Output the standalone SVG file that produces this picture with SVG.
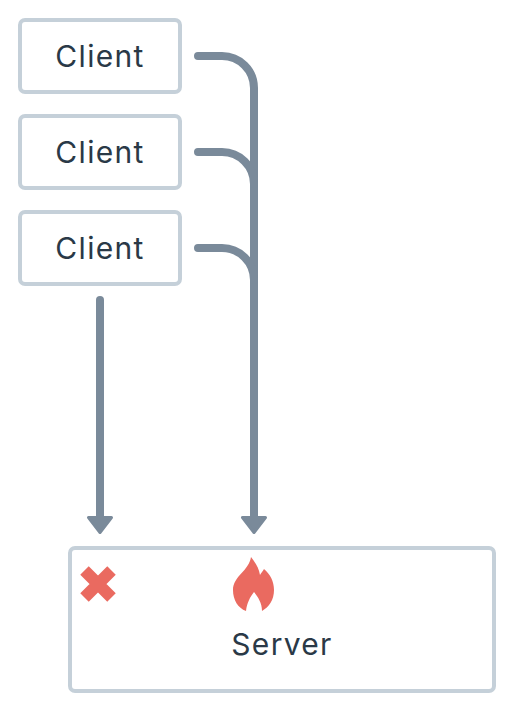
<svg xmlns="http://www.w3.org/2000/svg" width="514" height="712" viewBox="0 0 514 712">
<style>
.box{fill:#fff;stroke:#c5d0d9;stroke-width:4}
.t{font-family:"Inter","Noto Sans",sans-serif;font-size:30px;fill:#2a3947;text-anchor:middle;letter-spacing:1.3px}
.c{fill:none;stroke:#7a8a9a;stroke-width:8;stroke-linecap:round}
.h{fill:#7a8a9a;stroke:#7a8a9a;stroke-width:3;stroke-linejoin:round}
.r{fill:#ea6a60}
.x{fill:none;stroke:#ea6a60;stroke-width:12}
</style>
<rect width="514" height="712" fill="#fff"/>
<g id="connectors">
<path class="c" d="M198 56H222A32 32 0 0 1 254 88V518"/>
<path class="c" d="M198 152H222A32 32 0 0 1 254 184"/>
<path class="c" d="M198 248H222A32 32 0 0 1 254 280"/>
<path class="c" d="M100 300V518"/>
<path class="h" d="M88.500 517.500H111.500L100 532.500Z"/>
<path class="h" d="M242.500 517.500H265.500L254 532.500Z"/>
</g>
<g id="client-1"><rect class="box" x="20" y="20" width="160" height="72" rx="5"/><text class="t" x="100" y="67">Client</text></g>
<g id="client-2"><rect class="box" x="20" y="116" width="160" height="72" rx="5"/><text class="t" x="100" y="163">Client</text></g>
<g id="client-3"><rect class="box" x="20" y="212" width="160" height="72" rx="5"/><text class="t" x="100" y="259">Client</text></g>
<g id="server"><rect class="box" x="70" y="548" width="424" height="143" rx="5"/>
<path class="r" d="M251 557C255 562 259 568 260 575C261 573 263 571 264 569C270 574 274 581 274 590C274 600 269 607 262 611C262 603 258 597 254 592C250 597 247 603 246 611C238 608 233 600 233 590C233 576 249 571 251 557Z"/>
<path class="x" d="M84.500 570.500L111.500 597.500M111.500 570.500L84.500 597.500"/>
<text class="t" x="282" y="655">Server</text></g>
</svg>
